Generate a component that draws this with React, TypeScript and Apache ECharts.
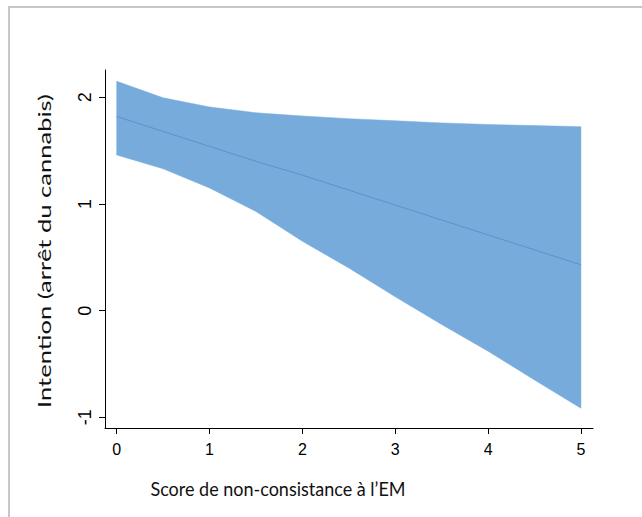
import React, { useEffect, useRef } from "react";
import * as echarts from "echarts";

const xValues = [0, 0.5, 1, 1.5, 2, 2.5, 3, 3.5, 4, 4.5, 5];
const upperValues = [2.15, 1.995, 1.91, 1.855, 1.825, 1.80, 1.78, 1.76, 1.745, 1.735, 1.725];
const lowerValues = [1.46, 1.33, 1.15, 0.93, 0.65, 0.40, 0.13, -0.13, -0.38, -0.65, -0.915];
const fitValues = [1.82, 1.68, 1.54, 1.40, 1.27, 1.13, 0.99, 0.85, 0.71, 0.57, 0.43];
const xTicks = [0, 1, 2, 3, 4, 5];
const yTicks = [-1, 0, 1, 2];
const xTitle = "Score de non-consistance à l’EM";
const yTitle = "Intention (arrêt du cannabis)";

export default function App() {
  const ref = useRef<HTMLDivElement>(null);
  useEffect(() => {
    document.body.style.margin = "0";
    const chart = echarts.init(ref.current!, null, { renderer: "svg" });
    const bandColor = "#76abdc";
    chart.setOption({
      animation: false,
      backgroundColor: "#ffffff",
      grid: { left: 105, right: 49, top: 70, bottom: 89 },
      xAxis: {
        type: "value",
        min: -0.126,
        max: 5.13,
        splitLine: { show: false },
        axisLine: { show: true, onZero: false, lineStyle: { color: "#000", width: 1 } },
        axisTick: { show: true, length: 6, customValues: xTicks, lineStyle: { color: "#000" } },
        axisLabel: {
          customValues: xTicks,
          margin: 13,
          color: "#000",
          fontSize: 16,
          fontFamily: "Liberation Sans, Arial, sans-serif",
        },
      },
      yAxis: {
        type: "value",
        min: -1.1,
        max: 2.256,
        splitLine: { show: false },
        axisLine: { show: true, onZero: false, lineStyle: { color: "#000", width: 1 } },
        axisTick: { show: true, length: 6, customValues: yTicks, lineStyle: { color: "#000" } },
        axisLabel: {
          customValues: yTicks,
          rotate: 90,
          margin: 11,
          color: "#000",
          fontSize: 18,
          fontFamily: "Liberation Sans, Arial, sans-serif",
        },
      },
      graphic: [
        {
          type: "rect",
          shape: { x: 9, y: 7, width: 700, height: 600 },
          style: { fill: "none", stroke: "#c8c8c8", lineWidth: 2 },
          z: -10,
          silent: true,
        },
        {
          type: "text",
          x: 278,
          y: 488,
          scaleX: 0.9,
          style: {
            text: xTitle,
            fontSize: 20,
            fontFamily: "Lato, Open Sans, sans-serif",
            fill: "#111",
            textAlign: "center",
            textVerticalAlign: "middle",
          },
        },
        {
          type: "text",
          x: 44,
          y: 251,
          rotation: Math.PI / 2,
          scaleX: 1.42,
          style: {
            text: yTitle,
            fontSize: 18,
            fontFamily: "Lato, Open Sans, sans-serif",
            fill: "#111",
            textAlign: "center",
            textVerticalAlign: "middle",
          },
        },
      ],
      series: [
        {
          type: "custom",
          data: xValues.map((x, i) => [x, lowerValues[i], upperValues[i]]),
          encode: { x: 0, y: [1, 2] },
          z: 1,
          renderItem: (params: any, api: any) => {
            if (params.dataIndex !== 0) return null;
            const top = xValues.map((x, i) => api.coord([x, upperValues[i]]));
            const bottom = xValues
              .map((x, i) => api.coord([x, lowerValues[i]]))
              .reverse();
            return {
              type: "polygon",
              shape: { points: top.concat(bottom) },
              style: { fill: bandColor, stroke: bandColor, lineWidth: 0.5 },
            };
          },
        },
        {
          type: "line",
          data: xValues.map((x, i) => [x, fitValues[i]]),
          symbol: "none",
          lineStyle: { width: 1, color: "#5e91c8" },
          z: 2,
        },
      ],
    });
    return () => chart.dispose();
  }, []);
  return <div ref={ref} style={{ width: 642, height: 517 }} />;
}
